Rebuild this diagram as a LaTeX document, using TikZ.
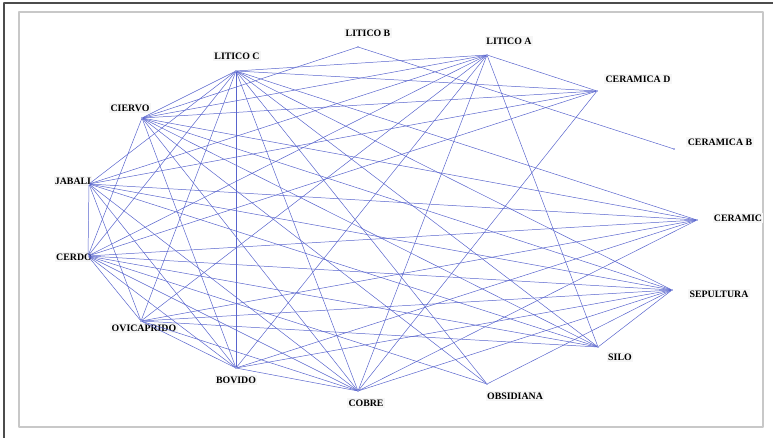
\documentclass[tikz,border=0pt]{standalone}
\usepackage{fontspec}
\setmainfont{Liberation Serif}
\usetikzlibrary{positioning}
\definecolor{edgeblue}{RGB}{88,100,205}
\definecolor{framegray}{RGB}{200,200,200}
\tikzset{
  vertex/.style={circle,fill=edgeblue,inner sep=0pt,minimum size=1.2pt},
  tag/.style={fill=gray!7,inner sep=1pt,font=\fontsize{7}{8}\selectfont\bfseries},
  link/.style={edgeblue,line width=0.35pt}
}
\begin{document}
\begin{tikzpicture}[line cap=round,line join=round,x=0.025cm,y=-0.025cm]
\useasboundingbox (0,0) rectangle (773,438);
\draw [line width=1pt,black!70] (4,3) -- (773,3);
\draw [line width=1pt,black!70] (4,3) -- (4,438);
\draw [line width=1.5pt,framegray] (19,12) rectangle (763,427);
% vertices
\node[vertex] (litb) at (358,47) {};
\node[vertex] (litc) at (236,71) {};
\node[vertex] (ciervo) at (142,118) {};
\node[vertex] (jabali) at (89,184) {};
\node[vertex] (cerdo) at (88,256) {};
\node[vertex] (ovica) at (141,321) {};
\node[vertex] (bovido) at (236,368) {};
\node[vertex] (cobre) at (358,391) {};
\node[vertex] (obsid) at (487,384) {};
\node[vertex] (silo) at (598,347) {};
\node[vertex] (sepul) at (672,290) {};
\node[vertex] (ceram) at (697,220) {};
\node[vertex] (cerb) at (674,149) {};
\node[vertex] (cerd) at (597,91) {};
\node[vertex] (lita) at (487,55) {};
% labels
\node[tag] at (368,33) {LITICO B};
\node[tag] at (237,56) {LITICO C};
\node[tag] at (130,108) {CIERVO};
\node[tag] at (73,181) {JABALI};
\node[tag] at (74,257) {CERDO};
\node[tag] at (144,328) {OVICAPRIDO};
\node[tag] at (236,380) {BOVIDO};
\node[tag] at (366,403) {COBRE};
\node[tag] at (515,396) {OBSIDIANA};
\node[tag] at (620,357) {SILO};
\node[tag] at (719,294) {SEPULTURA};
\node[tag] at (738,218) {CERAMIC};
\node[tag] at (720,142) {CERAMICA B};
\node[tag] at (638,79) {CERAMICA D};
\node[tag] at (509,41) {LITICO A};
% links
\foreach \a/\b in {litc/ciervo,litc/jabali,litc/cerdo,litc/ovica,litc/bovido,litc/cobre,
  litc/obsid,litc/silo,litc/sepul,litc/ceram,litc/cerd,litc/lita,
  litb/ciervo,litb/cerb,
  ciervo/lita,ciervo/cerd,ciervo/ceram,ciervo/sepul,ciervo/silo,ciervo/obsid,ciervo/cobre,
  ciervo/bovido,
  jabali/cerdo,jabali/lita,jabali/cerd,jabali/ceram,jabali/sepul,jabali/silo,jabali/cobre,
  jabali/bovido,jabali/ovica,
  cerdo/ciervo,cerdo/lita,cerdo/cerd,cerdo/ceram,cerdo/sepul,cerdo/silo,cerdo/obsid,
  cerdo/cobre,cerdo/bovido,cerdo/ovica,
  ovica/lita,ovica/ceram,ovica/sepul,ovica/silo,ovica/cobre,ovica/bovido,
  bovido/lita,bovido/ceram,bovido/sepul,bovido/cobre,
  cobre/lita,cobre/cerd,cobre/ceram,cobre/sepul,
  obsid/sepul,silo/lita,silo/sepul,cerd/lita}
  \draw[link] (\a) -- (\b);
\end{tikzpicture}
\end{document}
